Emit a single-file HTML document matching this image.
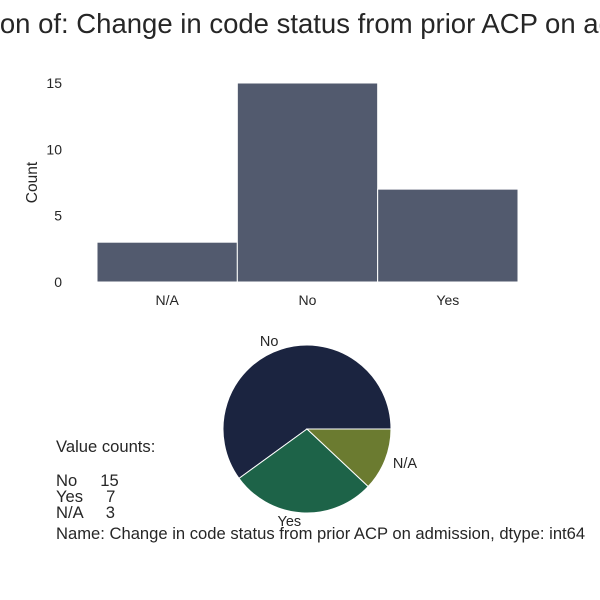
<!DOCTYPE html>
<html><head><meta charset="utf-8"><style>
html,body{margin:0;padding:0;background:#fff;width:600px;height:600px;overflow:hidden}
svg text{font-family:"Liberation Sans","DejaVu Sans",sans-serif;fill:#262626}
</style></head><body>
<svg id="chart" width="600" height="600" xmlns="http://www.w3.org/2000/svg">
<text x="300" y="33" font-size="27.5" text-anchor="middle">Distribution of: Change in code status from prior ACP on admission</text>
<g id="bars"></g>
<g id="pie"></g>
<g font-size="16.6">
<text x="56" y="452">Value counts:</text>
<text x="56" y="486" xml:space="preserve">No     15</text>
<text x="56" y="502" xml:space="preserve">Yes     7</text>
<text x="56" y="518" xml:space="preserve">N/A     3</text>
<text x="56" y="539">Name: Change in code status from prior ACP on admission, dtype: int64</text>
</g>
</svg>
<script>
const categories = ["N/A","No","Yes"];
const counts = [3,15,7];
const yTicks = [0,5,10,15];
const pieCategories = ["No","Yes","N/A"];
const pieValues = [15,7,3];
const pieColors = ["#1b2440","#1d6348","#6b7b30"];

const NS="http://www.w3.org/2000/svg";
function mk(tag,attrs,parent){const e=document.createElementNS(NS,tag);for(const k in attrs)e.setAttribute(k,attrs[k]);parent.appendChild(e);return e;}
const bars=document.getElementById('bars');
const x0=97,x1=518,y0=282,yTop=83,yMax=15;
const y=v=>y0-(v/yMax)*(y0-yTop);
const bw=(x1-x0)/categories.length;
const x=i=>x0+i*bw;
yTicks.forEach(t=>{
  const tx=mk('text',{x:62,y:y(t)+5,'font-size':14,'text-anchor':'end'},bars);
  tx.textContent=t;
  
  
});
const yl=mk('text',{x:37,y:(y0+yTop)/2,'font-size':15.5,'text-anchor':'middle',transform:`rotate(-90 37 ${(y0+yTop)/2})`},bars);
yl.textContent="Count";


categories.forEach((c,i)=>{
  const r=mk('rect',{x:x(i),y:y(counts[i]),width:bw,height:y0-y(counts[i]),fill:'#525a6e',stroke:'#fff','stroke-width':1},bars);
  
  
  const t=mk('text',{x:x(i)+bw/2,y:y0+23,'font-size':14,'text-anchor':'middle'},bars);
  t.textContent=c;
  
  
});
const pie=document.getElementById('pie');
const cx=307,cy=429,R=84;
const total=pieValues.reduce((a,b)=>a+b,0);
let a=0;
pieValues.forEach((v,i)=>{
  const a2=a+v/total*2*Math.PI;
  const p1=[cx+R*Math.cos(a),cy-R*Math.sin(a)],p2=[cx+R*Math.cos(a2),cy-R*Math.sin(a2)];
  const large=(a2-a)>Math.PI?1:0;
  const p=mk('path',{d:`M${cx},${cy} L${p1[0]},${p1[1]} A${R},${R} 0 ${large} 0 ${p2[0]},${p2[1]} Z`,fill:pieColors[i],stroke:'#fff','stroke-width':1},pie);
  
  
  const m=(a+a2)/2, lx=cx+1.1*R*Math.cos(m), ly=cy-1.1*R*Math.sin(m);
  const t=mk('text',{x:lx,y:ly+5,'font-size':14.5,'text-anchor':Math.cos(m)<0?'end':'start'},pie);
  t.textContent=pieCategories[i];
  
  
  a=a2;
});
</script>
</body></html>
